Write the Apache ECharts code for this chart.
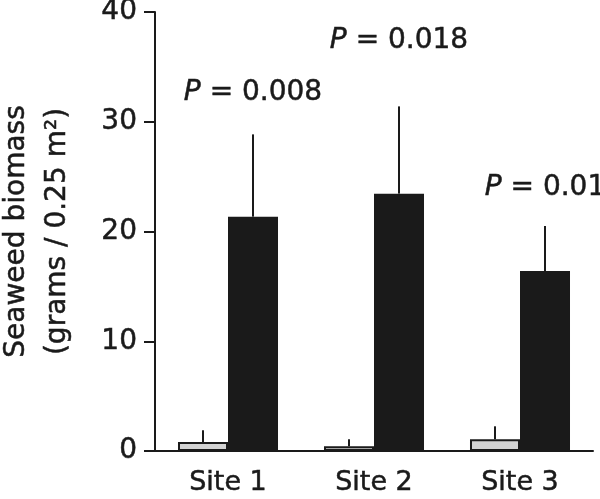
<!DOCTYPE html>
<html>
<head>
<meta charset="utf-8">
<script src="https://cdn.jsdelivr.net/npm/echarts@6/dist/echarts.min.js"></script>
<style>html,body{margin:0;padding:0;background:#fff;}#c{width:600px;height:499px;}</style>
</head>
<body>
<div id="c"></div>
<script>
const categories = ['Site 1', 'Site 2', 'Site 3'];
const controlMeans = [0.82, 0.43, 1.07];
const controlErrTops = [1.89, 1.07, 2.25];
const treatMeans = [21.35, 23.45, 16.4];
const treatErrTops = [28.85, 31.4, 20.5];
const pValues = ['0.008', '0.018', '0.01'];
const pLabelY = [32.6, 37.4, 24.0];
const yTicks = [0, 10, 20, 30, 40];

const FONT = 'DejaVu Sans';
const INK = '#1a1a1a';
const GAP = 0.315;
const TB = {textBorderColor: INK, textBorderWidth: 0.5};

const chart = echarts.init(document.getElementById('c'), null, {renderer: 'canvas'});

function errRender(sign) {
  return function (params, api) {
    const idx = api.value(0);
    const p0 = api.coord([idx, api.value(1)]);
    const p1 = api.coord([idx, api.value(2)]);
    const band = api.size([1, 0])[0];
    const off = sign * band * (1 - GAP) / 4;
    return {
      type: 'line',
      shape: {x1: p0[0] + off, y1: p0[1], x2: p1[0] + off, y2: p1[1]},
      style: {stroke: INK, lineWidth: 2}
    };
  };
}

chart.setOption({
  animation: false,
  grid: {left: 155, right: 7, top: 12, bottom: 48, containLabel: false, outerBoundsMode: 'none'},
  xAxis: {
    type: 'category',
    data: categories,
    axisLine: {lineStyle: {color: INK, width: 2}},
    axisTick: {alignWithLabel: true, length: 12, lineStyle: {color: INK, width: 2}},
    axisLabel: Object.assign({color: INK, fontFamily: FONT, fontSize: 27, margin: 18}, TB)
  },
  yAxis: {
    type: 'value',
    min: 0, max: 40, interval: 10,
    splitLine: {show: false},
    axisLine: {show: true, lineStyle: {color: INK, width: 2}},
    axisTick: {show: true, length: 11, lineStyle: {color: INK, width: 2}},
    axisLabel: Object.assign({color: INK, fontFamily: FONT, fontSize: 28, margin: 18,
      formatter: v => yTicks.includes(v) ? String(v) : ''}, TB),
    name: 'Seaweed biomass\n(grams / 0.25 m²)',
    nameLocation: 'middle',
    nameGap: 77,
    nameRotate: 90,
    nameTextStyle: Object.assign({color: INK, fontFamily: FONT, fontSize: 28, lineHeight: 41}, TB)
  },
  series: [
    {
      type: 'bar',
      data: controlMeans,
      barGap: '0%',
      barCategoryGap: (GAP * 100) + '%',
      itemStyle: {color: '#d3d3d3', borderColor: INK, borderWidth: 2}
    },
    {
      type: 'bar',
      data: treatMeans,
      itemStyle: {color: INK}
    },
    {
      type: 'custom',
      renderItem: errRender(-1),
      data: categories.map((c, i) => [i, controlMeans[i], controlErrTops[i]]),
      z: 5
    },
    {
      type: 'custom',
      renderItem: errRender(1),
      data: categories.map((c, i) => [i, treatMeans[i], treatErrTops[i]]),
      z: 5
    },
    {
      type: 'custom',
      renderItem: function (params, api) {
        const idx = api.value(0);
        const p = api.coord([idx, api.value(1)]);
        const band = api.size([1, 0])[0];
        const off = band * (1 - GAP) / 4;
        return {
          type: 'text',
          x: p[0] + off, y: p[1],
          style: {
            text: '{i|P} = ' + pValues[params.dataIndex],
            align: 'center', verticalAlign: 'middle',
            fontFamily: FONT, fontSize: 28, fill: INK,
            stroke: INK, lineWidth: 0.5,
            rich: {i: {fontStyle: 'italic', fontFamily: FONT, fontSize: 28, fill: INK, stroke: INK, lineWidth: 0.5}}
          }
        };
      },
      data: categories.map((c, i) => [i, pLabelY[i]]),
      z: 6
    }
  ]
});
</script>
</body>
</html>
